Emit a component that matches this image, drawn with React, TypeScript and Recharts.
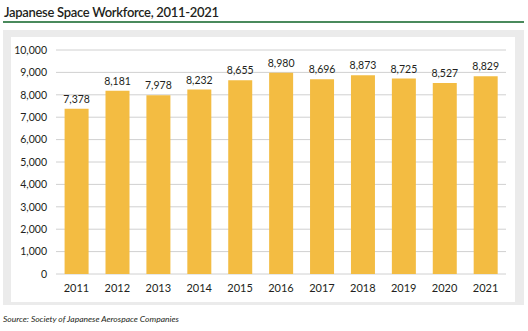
import { Bar, BarChart, CartesianGrid, LabelList, XAxis, YAxis } from "recharts"

const YEARS = ["2011", "2012", "2013", "2014", "2015", "2016", "2017", "2018", "2019", "2020", "2021"]
const WORKFORCE = [7378, 8181, 7978, 8232, 8655, 8980, 8696, 8873, 8725, 8527, 8829]
const Y_TICKS = [0, 1000, 2000, 3000, 4000, 5000, 6000, 7000, 8000, 9000, 10000]

const FONT = "Lato, 'Open Sans', sans-serif"

const fmt = (v: number) => Number(v).toLocaleString("en-US")

export default function App() {
    const data = YEARS.map((year, i) => ({ year, value: WORKFORCE[i] }))

    return (
        <div style={{ position: "absolute", left: 0, top: 0, width: 528, height: 331, background: "#fff", fontFamily: FONT }}>
            <div style={{ position: "absolute", left: 4, top: 4, fontSize: 13, fontWeight: 600, color: "#231f20", letterSpacing: -0.3 }}>
                Japanese Space Workforce, 2011-2021
            </div>
            <div style={{ position: "absolute", left: 3, top: 21, width: 521, height: 2, background: "#4a8a5c" }} />
            <div style={{ position: "absolute", left: 3, top: 30, width: 521, height: 275, background: "#ebebeb" }} />
            <div style={{ position: "absolute", left: 11, top: 37, width: 504, height: 265, background: "#fff" }}>
                <BarChart width={504} height={265} data={data} margin={{ top: 13, right: 9, bottom: 0, left: 0 }} barCategoryGap="21%">
                    <CartesianGrid vertical={false} stroke="#d0d0d0" />
                    <XAxis
                        dataKey="year"
                        tickLine={false}
                        axisLine={false}
                        tickSize={0}
                        tickMargin={10}
                        height={28}
                        tick={{ fill: "#231f20", fontSize: 11, fontFamily: FONT }}
                    />
                    <YAxis
                        domain={[0, 10000]}
                        ticks={Y_TICKS}
                        interval={0}
                        tickLine={false}
                        axisLine={false}
                        tickSize={0}
                        tickMargin={9}
                        width={45}
                        tickFormatter={fmt}
                        tick={{ fill: "#231f20", fontSize: 10.5, fontFamily: FONT }}
                    />
                    <Bar dataKey="value" fill="#f3bc42" isAnimationActive={false}>
                        <LabelList
                            dataKey="value"
                            position="top"
                            offset={6}
                            formatter={(v: any) => fmt(v)}
                            style={{ fill: "#231f20", fontSize: 10.5, fontFamily: FONT }}
                        />
                    </Bar>
                </BarChart>
            </div>
            <div style={{ position: "absolute", left: 3, top: 314, fontSize: 8.5, fontStyle: "italic", color: "#231f20" }}>
                Source: Society of Japanese Aerospace Companies
            </div>
        </div>
    )
}
